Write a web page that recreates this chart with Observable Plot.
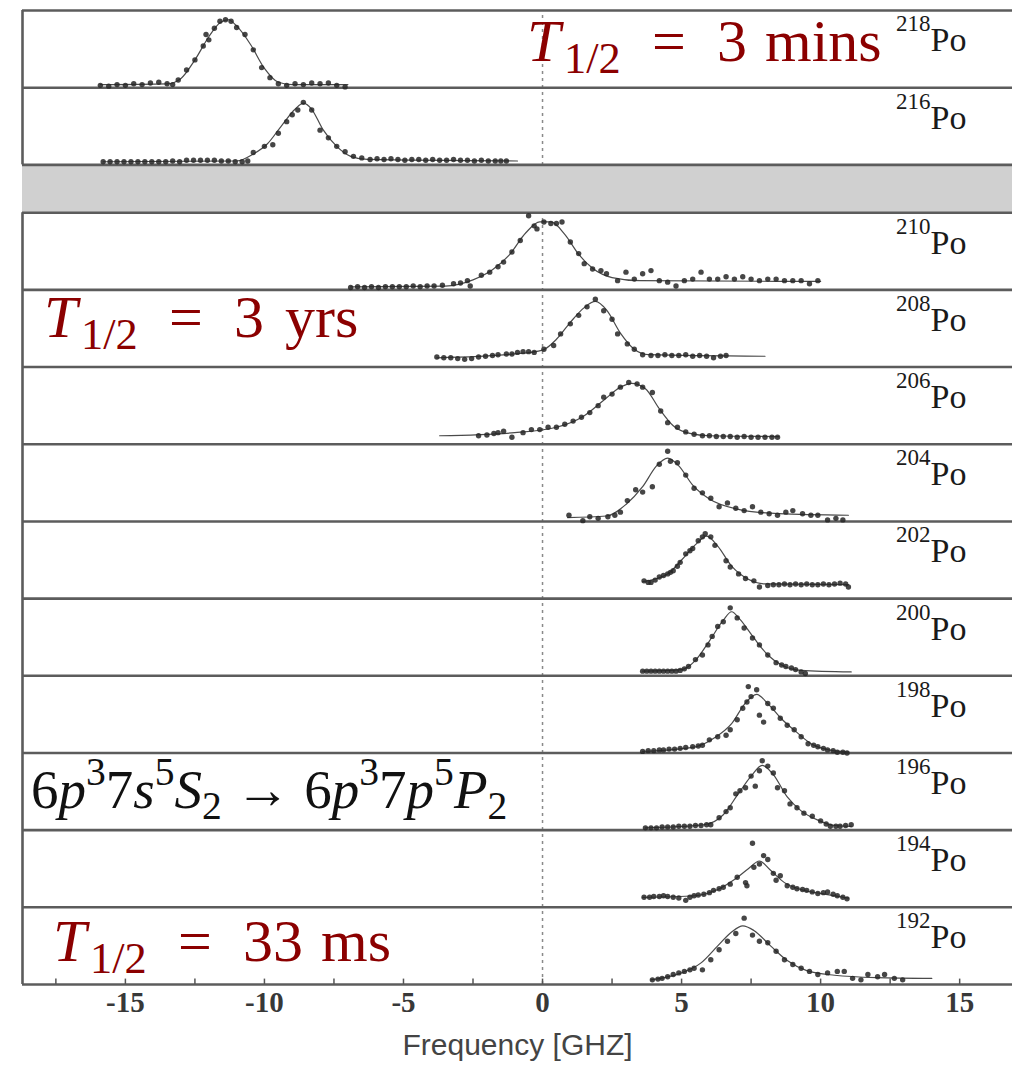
<!DOCTYPE html>
<html><head><meta charset="utf-8">
<script src="https://cdn.jsdelivr.net/npm/d3@7"></script>
<script src="https://cdn.jsdelivr.net/npm/@observablehq/plot@0.6"></script>
<style>body{margin:0;background:#fff}</style>
</head><body><div id="chart"></div>
<script>
// ---------- DATA ----------
const isotopes = ["218","216","210","208","206","204","202","200","198","196","194","192"];
const xTicks = [-15,-10,-5,0,5,10,15];
const minorTicks = [-17.5,-15,-12.5,-10,-7.5,-5,-2.5,0,2.5,5,7.5,10,12.5,15];
const xLabel = "Frequency [GHZ]";

// measured points [frequency GHz, normalised signal]
const dots218 = [[-15.9,0.03],[-15.6,0.02],[-15.3,0.04],[-15.0,0.03],[-14.7,0.05],[-14.4,0.04],[-14.1,0.06],[-13.8,0.07],[-13.5,0.05],[-13.3,0.04],
[-13.1,0.10],[-12.8,0.23],[-12.5,0.36],[-12.2,0.54],[-12.1,0.69],[-12.0,0.62],[-11.8,0.77],[-11.6,0.86],[-11.4,0.88],[-11.2,0.86],[-11.0,0.78],[-10.7,0.69],[-10.4,0.49],[-10.1,0.26],[-9.8,0.13],[-9.5,0.05],
[-9.2,0.03],[-8.9,0.05],[-8.6,0.04],[-8.3,0.06],[-8.0,0.05],[-7.7,0.06],[-7.4,0.03],[-7.1,0.01]];
const dots216 = [[-15.8,0.04],[-15.55,0.04],[-15.3,0.04],[-15.05,0.04],[-14.8,0.04],[-14.55,0.04],[-14.3,0.04],[-14.05,0.04],[-13.8,0.04],[-13.55,0.04],[-13.3,0.05],[-13.05,0.04],[-12.8,0.06],[-12.55,0.06],[-12.3,0.06],[-12.05,0.06],[-11.8,0.06],[-11.55,0.05],[-11.3,0.05],[-11.05,0.04],[-10.8,0.04],[-10.6,0.05],
[-10.4,0.16],[-10.0,0.24],[-9.7,0.26],[-9.5,0.41],[-9.2,0.56],[-9.0,0.65],[-8.8,0.71],[-8.6,0.81],[-8.3,0.71],[-8.0,0.45],[-7.7,0.35],[-7.4,0.24],[-7.1,0.17],[-6.8,0.11],[-6.5,0.09],
[-6.2,0.07],[-5.95,0.08],[-5.7,0.07],[-5.45,0.08],[-5.2,0.07],[-4.95,0.06],[-4.7,0.07],[-4.45,0.07],[-4.2,0.06],[-3.95,0.07],[-3.7,0.06],[-3.45,0.06],[-3.2,0.07],[-2.95,0.06],[-2.7,0.06],[-2.45,0.05],[-2.2,0.06],[-1.95,0.05],[-1.7,0.05],[-1.5,0.05],[-1.3,0.05]];
const dots210 = [[-6.9,0.03],[-6.65,0.04],[-6.4,0.03],[-6.15,0.04],[-5.9,0.03],[-5.65,0.04],[-5.4,0.04],[-5.15,0.04],[-4.9,0.04],[-4.65,0.05],[-4.4,0.04],[-4.15,0.05],[-3.9,0.05],[-3.6,0.06],
[-3.2,0.08],[-2.95,0.09],[-2.7,0.12],[-2.6,0.05],[-2.2,0.19],[-1.9,0.23],[-1.6,0.30],[-1.4,0.36],[-1.1,0.49],[-0.8,0.64],[-0.5,0.96],[-0.3,0.83],[-0.2,0.79],[0.05,0.88],[0.3,0.86],[0.5,0.86],[0.7,0.88],[1.0,0.62],[1.3,0.47],[1.5,0.34],[1.8,0.27],[2.1,0.25],[2.3,0.21],[2.7,0.12],[3.0,0.23],[3.3,0.14],[3.6,0.21],[3.9,0.25],[4.2,0.12],[4.5,0.10],[4.8,0.05],[5.1,0.12],[5.4,0.14],[5.7,0.23],[6.0,0.14],[6.3,0.14],[6.6,0.17],[6.9,0.14],[7.2,0.17],[7.5,0.14],[7.8,0.12],[8.1,0.14],[8.4,0.14],[8.7,0.12],[9.0,0.12],[9.3,0.12],[9.6,0.08],[9.9,0.12]];
const dots208 = [[-3.8,0.13],[-3.55,0.12],[-3.3,0.12],[-3.05,0.11],[-2.8,0.10],[-2.55,0.11],[-2.3,0.13],[-2.05,0.14],[-1.8,0.15],[-1.6,0.16],[-1.3,0.17],[-1.1,0.17],[-0.9,0.19],[-0.7,0.20],[-0.5,0.20],[-0.3,0.19],[0.05,0.23],[0.4,0.28],[0.65,0.43],[1.0,0.56],[1.3,0.67],[1.6,0.78],[1.9,0.88],[2.2,0.73],[2.5,0.62],[2.7,0.43],[3.05,0.30],[3.3,0.23],[3.6,0.16],
[3.9,0.15],[4.15,0.15],[4.4,0.16],[4.65,0.15],[4.9,0.15],[5.15,0.16],[5.4,0.14],[5.65,0.15],[5.9,0.14],[6.15,0.12],[6.4,0.14],[6.6,0.15]];
const dots206 = [[-2.3,0.11],[-2.0,0.12],[-1.75,0.14],[-1.6,0.15],[-1.4,0.17],[-1.1,0.09],[-0.7,0.15],[-0.4,0.19],[-0.1,0.19],[0.2,0.22],[0.5,0.22],[0.8,0.26],[1.1,0.30],[1.4,0.35],[1.7,0.41],[2.0,0.50],[2.2,0.61],[2.5,0.65],[2.8,0.74],[3.1,0.80],[3.4,0.78],[3.6,0.74],[3.95,0.67],[4.25,0.43],[4.5,0.28],[4.85,0.22],[5.15,0.16],[5.45,0.13],[5.75,0.11],[6.0,0.11],[6.25,0.10],[6.5,0.10],[6.75,0.10],[7.0,0.09],[7.25,0.10],[7.5,0.09],[7.75,0.09],[8.0,0.09],[8.25,0.09],[8.45,0.09]];
const dots204 = [[0.95,0.08],[1.45,0.01],[1.7,0.06],[2.0,0.04],[2.35,0.06],[2.6,0.08],[2.8,0.12],[3.05,0.27],[3.35,0.41],[3.6,0.38],[3.95,0.45],[4.2,0.74],[4.5,0.91],[4.6,0.78],[4.85,0.76],[5.15,0.60],[5.45,0.43],[5.75,0.37],[6.05,0.30],[6.35,0.19],[6.65,0.24],[6.95,0.17],[7.25,0.14],[7.55,0.19],[7.85,0.12],[8.15,0.10],[8.45,0.08],[8.75,0.12],[9.0,0.14],[9.35,0.10],[9.65,0.08],[9.9,0.08],[10.25,0.02],[10.55,0.04],[10.8,0.02]];
const dots202 = [[3.65,0.23],[3.8,0.21],[3.9,0.21],[4.05,0.24],[4.2,0.28],[4.35,0.30],[4.5,0.32],[4.6,0.34],[4.7,0.36],[4.85,0.42],[4.95,0.47],[5.15,0.58],[5.3,0.62],[5.4,0.65],[5.6,0.75],[5.75,0.80],[5.85,0.84],[6.05,0.80],[6.2,0.69],[6.6,0.49],[6.75,0.41],[7.05,0.32],[7.3,0.26],[7.6,0.23],[7.8,0.15],
[8.1,0.17],[8.3,0.18],[8.5,0.18],[8.7,0.19],[8.9,0.18],[9.1,0.19],[9.3,0.18],[9.5,0.19],[9.7,0.18],[9.9,0.18],[10.1,0.19],[10.3,0.18],[10.5,0.19],[10.7,0.20],[10.9,0.19],[11.0,0.15]];
const dots200 = [[3.6,0.06],[3.75,0.06],[3.9,0.06],[4.05,0.06],[4.2,0.06],[4.35,0.06],[4.5,0.06],[4.65,0.06],[4.8,0.06],[4.95,0.07],[5.1,0.09],[5.25,0.12],[5.5,0.21],[5.75,0.27],[5.95,0.40],[6.1,0.51],[6.3,0.64],[6.5,0.70],[6.75,0.88],[7.0,0.75],[7.25,0.62],[7.55,0.49],[7.8,0.40],[8.1,0.27],[8.4,0.17],[8.6,0.14],[8.75,0.12],[8.95,0.10],[9.1,0.08],[9.3,0.05],[9.45,0.03]];
const dots198 = [[3.6,0.02],[3.8,0.03],[4.0,0.03],[4.2,0.04],[4.35,0.04],[4.55,0.05],[4.75,0.05],[4.95,0.06],[5.15,0.07],[5.4,0.08],[5.6,0.09],[5.75,0.10],[6.0,0.17],[6.3,0.21],[6.6,0.23],[6.75,0.30],[7.0,0.43],[7.2,0.58],[7.35,0.66],[7.5,0.73],[7.4,0.86],[7.7,0.82],[7.8,0.49],[7.95,0.40],[8.1,0.64],[8.3,0.58],[8.55,0.45],[8.8,0.36],[9.05,0.30],[9.3,0.21],[9.55,0.12],[9.75,0.10],[9.9,0.08],[10.1,0.06],[10.25,0.04],[10.45,0.03],[10.6,0.01],[10.8,0.01],[10.95,0.0]];
const dots196 = [[3.7,0.03],[3.9,0.03],[4.1,0.03],[4.3,0.04],[4.5,0.04],[4.7,0.04],[4.9,0.05],[5.1,0.05],[5.3,0.05],[5.5,0.06],[5.7,0.06],[5.9,0.07],[6.05,0.07],[6.35,0.16],[6.6,0.24],[6.75,0.29],[6.95,0.47],[7.1,0.51],[7.3,0.55],[7.5,0.70],[7.65,0.57],[7.8,0.77],[7.9,0.90],[8.1,0.83],[8.3,0.74],[8.45,0.55],[8.7,0.51],[8.9,0.34],[9.15,0.29],[9.4,0.22],[9.7,0.18],[10.0,0.12],[10.2,0.08],[10.35,0.05],[10.55,0.05],[10.7,0.05],[10.9,0.06],[11.1,0.07]];
const dots194 = [[3.65,0.13],[3.85,0.13],[4.0,0.14],[4.2,0.14],[4.35,0.15],[4.5,0.14],[4.7,0.13],[4.9,0.12],[5.15,0.09],[5.3,0.13],[5.45,0.15],[5.6,0.16],[5.8,0.17],[6.0,0.19],[6.15,0.22],[6.35,0.24],[6.5,0.26],[6.75,0.30],[7.0,0.39],[7.3,0.32],[7.35,0.28],[7.55,0.83],[7.6,0.52],[7.8,0.56],[7.95,0.67],[8.1,0.62],[8.3,0.44],[8.4,0.35],[8.55,0.41],[8.8,0.28],[9.0,0.26],[9.15,0.24],[9.35,0.23],[9.5,0.22],[9.7,0.20],[9.9,0.18],[10.1,0.19],[10.25,0.20],[10.45,0.17],[10.6,0.15],[10.8,0.13],[10.95,0.11]];
const dots192 = [[3.95,0.06],[4.15,0.07],[4.3,0.08],[4.5,0.10],[4.7,0.13],[4.9,0.15],[5.1,0.17],[5.3,0.19],[5.45,0.21],[5.75,0.19],[6.05,0.32],[6.35,0.45],[6.65,0.56],[6.95,0.66],[7.25,0.86],[7.55,0.64],[7.8,0.56],[8.1,0.54],[8.4,0.43],[8.7,0.32],[9.0,0.26],[9.3,0.21],[9.6,0.17],[9.9,0.13],[10.25,0.15],[10.6,0.17],[10.85,0.17],[11.15,0.08],[11.45,0.06],[11.7,0.13],[12.05,0.10],[12.3,0.13],[12.65,0.08],[12.95,0.06]];

// fitted curves
const fit218 = [[-15.9,0.04],[-13.5,0.05],[-13.0,0.12],[-12.5,0.36],[-12.0,0.66],[-11.6,0.84],[-11.3,0.88],[-11.0,0.8],[-10.5,0.56],[-10.0,0.25],[-9.5,0.07],[-9.0,0.04],[-7.0,0.04]];
const fit216 = [[-15.8,0.04],[-11.0,0.05],[-10.4,0.14],[-9.9,0.27],[-9.4,0.5],[-8.9,0.72],[-8.6,0.8],[-8.3,0.72],[-7.9,0.46],[-7.4,0.24],[-6.9,0.11],[-6.3,0.07],[-0.9,0.05]];
const fit210 = [[-6.9,0.04],[-3.5,0.05],[-2.5,0.13],[-1.8,0.26],[-1.2,0.45],[-0.6,0.74],[-0.1,0.88],[0.3,0.88],[0.8,0.72],[1.3,0.46],[1.8,0.28],[2.5,0.16],[3.5,0.12],[10.0,0.11]];
const fit208 = [[-3.8,0.12],[-1.0,0.17],[0.0,0.22],[0.5,0.36],[1.0,0.58],[1.5,0.77],[1.9,0.85],[2.3,0.74],[2.8,0.44],[3.3,0.23],[3.8,0.16],[8.0,0.14]];
const fit206 = [[-3.7,0.11],[-1.0,0.15],[0.5,0.22],[1.5,0.37],[2.2,0.57],[2.8,0.74],[3.2,0.79],[3.7,0.72],[4.2,0.46],[4.7,0.24],[5.3,0.14],[6.0,0.11],[8.5,0.10]];
const fit204 = [[0.9,0.05],[2.3,0.07],[3.0,0.22],[3.6,0.45],[4.1,0.72],[4.5,0.82],[4.9,0.72],[5.4,0.47],[6.0,0.29],[7.0,0.16],[8.5,0.10],[11.0,0.08]];
const fit202 = [[3.6,0.22],[4.5,0.32],[5.0,0.5],[5.5,0.7],[5.9,0.81],[6.3,0.68],[6.8,0.42],[7.4,0.25],[8.0,0.19],[11.0,0.18]];
const fit200 = [[3.6,0.06],[5.0,0.08],[5.5,0.2],[6.0,0.45],[6.5,0.72],[6.8,0.83],[7.1,0.73],[7.6,0.49],[8.1,0.27],[8.6,0.14],[9.3,0.07],[11.1,0.05]];
const fit198 = [[3.6,0.02],[5.5,0.08],[6.2,0.2],[6.8,0.38],[7.3,0.65],[7.7,0.76],[8.1,0.64],[8.6,0.44],[9.1,0.28],[9.7,0.11],[10.3,0.04],[11.0,0.01]];
const fit196 = [[3.7,0.03],[5.8,0.07],[6.5,0.2],[7.0,0.45],[7.5,0.7],[7.9,0.84],[8.3,0.72],[8.8,0.43],[9.3,0.25],[9.9,0.13],[10.5,0.06],[11.1,0.05]];
const fit194 = [[3.6,0.13],[5.5,0.15],[6.3,0.23],[6.9,0.36],[7.4,0.5],[7.8,0.6],[8.2,0.48],[8.7,0.32],[9.3,0.23],[10.0,0.18],[11.0,0.12]];
const fit192 = [[3.9,0.06],[5.0,0.15],[5.7,0.28],[6.3,0.5],[6.8,0.68],[7.2,0.76],[7.6,0.7],[8.2,0.5],[8.8,0.31],[9.5,0.18],[10.5,0.12],[12.0,0.09],[14.0,0.08]];

// ---------- LAYOUT ----------
const dotSets = {"218":dots218,"216":dots216,"210":dots210,"208":dots208,"206":dots206,"204":dots204,"202":dots202,"200":dots200,"198":dots198,"196":dots196,"194":dots194,"192":dots192};
const fitSets = {"218":fit218,"216":fit216,"210":fit210,"208":fit208,"206":fit206,"204":fit204,"202":fit202,"200":fit200,"198":fit198,"196":fit196,"194":fit194,"192":fit192};
const GAP = 0.62;           // grey band (missing isotopes) height in panel units
const nP = isotopes.length;
const baseOf = iso => { const r = nP - 1 - isotopes.indexOf(iso); return r + (r >= 10 ? GAP : 0); };
const yMax = nP + GAP;
const X0 = -18.7, X1 = 16.9;

const dotRows = isotopes.flatMap(iso => dotSets[iso].map(([x, s]) => ({iso, x, s})));
const fitRows = isotopes.flatMap(iso => fitSets[iso].map(([x, s]) => ({iso, x, s})));
const panels = isotopes.map(iso => ({iso, base: baseOf(iso)}));
const lines = Array.from(new Set(panels.flatMap(p => [p.base, p.base + 1])));

const serif = "'Liberation Serif', 'Times New Roman', serif";

const fig = Plot.plot({
  width: 1012, height: 1066,
  marginTop: 10, marginBottom: 82, marginLeft: 22, marginRight: 0,
  style: {fontFamily: serif, background: "#fff", color: "#333"},
  x: {domain: [X0, X1]},
  y: {domain: [0, yMax], axis: null},
  marks: [
    Plot.ruleX([0], {y1: 0, y2: yMax, stroke: "#8a8a8a", strokeWidth: 1.5, strokeDasharray: "3,4"}),
    Plot.rect([{a: 10, b: 10 + GAP}], {x1: X0, x2: X1, y1: "a", y2: "b", fill: "#d0d0d0"}),
    Plot.ruleY(lines, {stroke: "#5c5c5c", strokeWidth: 2.6}),
    Plot.ruleX([{a: 0, b: 10}, {a: 10 + GAP, b: yMax}], {x: () => X0, y1: "a", y2: "b", stroke: "#5c5c5c", strokeWidth: 2.6}),
    Plot.ruleX(minorTicks, {y1: 0, y2: 0.07, stroke: "#555", strokeWidth: 1.5}),
    Plot.axisX(xTicks, {tickSize: 0, tickPadding: 7, tickFormat: d => String(d), fontSize: 29, fontWeight: "bold", color: "#383838", label: null}),
    Plot.line(fitRows, {x: "x", y: d => baseOf(d.iso) + d.s, z: "iso", curve: "monotone-x", stroke: "#4a4a4a", strokeWidth: 1.2}),
    Plot.dot(dotRows, {x: "x", y: d => baseOf(d.iso) + d.s, r: 2.7, fill: "#262626", fillOpacity: 0.85}),
    Plot.text(panels, {y: d => d.base + 0.47, text: () => "Po", frameAnchor: "right", dx: -82, textAnchor: "start", lineAnchor: "bottom", fontSize: 34, fill: "#1a1a1a"}),
    Plot.text(panels, {y: d => d.base + 0.47, text: "iso", frameAnchor: "right", dx: -82, dy: -20, textAnchor: "end", lineAnchor: "bottom", fontSize: 23, fill: "#1a1a1a", style: "letter-spacing:-1px"}),
    Plot.text([xLabel], {frameAnchor: "bottom", dy: 70, lineAnchor: "bottom", fontFamily: "Liberation Sans, Arial, sans-serif", fontSize: 30, fill: "#444"})
  ]
});
document.getElementById("chart").append(fig);

// ---------- ANNOTATIONS ----------
const svg = d3.select(fig);
function halfLife(x0, y0, value, unit, unitOffset) {
  const size = 60, red = "#8b0000";
  const t = svg.append("text").attr("y", y0).attr("fill", red).attr("text-anchor", "start")
    .style("font-family", serif).attr("font-size", size);
  t.append("tspan").attr("x", x0).attr("font-style", "italic").text("T");
  t.append("tspan").attr("x", x0 + 37).attr("dy", 12).attr("font-size", size * 0.74).text("1/2");
  t.append("tspan").attr("x", x0 + 125).attr("dy", -12).text("=");
  t.append("tspan").attr("x", x0 + 190).text(value);
  t.append("tspan").attr("x", x0 + unitOffset).text(unit);
}
halfLife(527, 61, "3", "mins", 238);
halfLife(44, 337, "3", "yrs", 241);
halfLife(53, 961, "33", "ms", 268);

function rich(x, y, size, color, parts) {
  const t = svg.append("text").attr("x", x).attr("y", y).attr("fill", color).attr("text-anchor", "start")
    .style("font-family", serif).attr("font-size", size);
  let shift = 0;
  for (const p of parts) {
    const target = p.sub ? 0.2 * size : p.sup ? -0.42 * size : 0;
    const ts = t.append("tspan").text(p.t).attr("dy", target - shift);
    shift = target;
    if (p.sub || p.sup) ts.attr("font-size", size * 0.72);
    if (p.i) ts.attr("font-style", "italic");
  }
}
rich(31, 808, 55, "#111", [
  {t: "6"}, {t: "p", i: true}, {t: "3", sup: true}, {t: "7"}, {t: "s", i: true}, {t: "5", sup: true}, {t: "S", i: true}, {t: "2", sub: true},
  {t: " \u2192 "}, {t: "6"}, {t: "p", i: true}, {t: "3", sup: true}, {t: "7"}, {t: "p", i: true}, {t: "5", sup: true}, {t: "P", i: true}, {t: "2", sub: true}
]);
</script>
</body></html>
